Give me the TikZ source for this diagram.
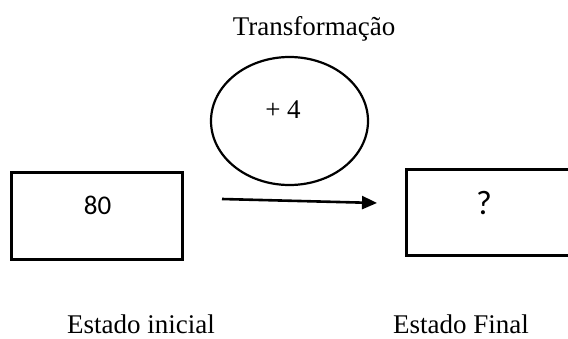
\documentclass[tikz,border=0pt]{standalone}
\usepackage{fontspec}
\setmainfont{Liberation Serif}
\newfontfamily\calib{Carlito}
\usetikzlibrary{arrows.meta,shapes.geometric}
\begin{document}
\begin{tikzpicture}[x=1pt,y=-1pt,
  statebox/.style={draw=black,line width=3pt,inner sep=0pt},
  serif/.style={inner sep=0pt,font=\fontsize{27}{30}\selectfont},
  sans/.style={inner sep=0pt,font=\calib\fontsize{27}{30}\selectfont},
  conn/.style={line width=2.6pt,-{Triangle[length=15pt,width=13pt]}}]
\useasboundingbox (0,0) rectangle (568,338);
\begin{scope}
\clip (0,0) rectangle (568,338);
\draw[statebox] (11,172) rectangle (182,259);
\node[sans] (v80) at (97.5,205.5) {80};
\draw[statebox] (406,169) rectangle (620,255);
\node[sans,font=\calib\fontsize{34}{36}\selectfont] (q) at (484,202.5) {?};
\node[draw=black,line width=2.2pt,ellipse,minimum width=157pt,minimum height=128pt,inner sep=0pt] (tr) at (289.5,121) {};
\node[serif] (p4) at (283,109.5) {+ 4};
\coordinate (a1) at (222,199);
\coordinate (a2) at (377,203);
\draw[conn] (a1) -- (a2);
\node[serif,anchor=base] (tt) at (314,35) {Transformação};
\node[serif,anchor=base] (ei) at (141,333) {Estado inicial};
\node[serif,anchor=base] (ef) at (461,333) {Estado Final};
\end{scope}
\end{tikzpicture}
\end{document}
